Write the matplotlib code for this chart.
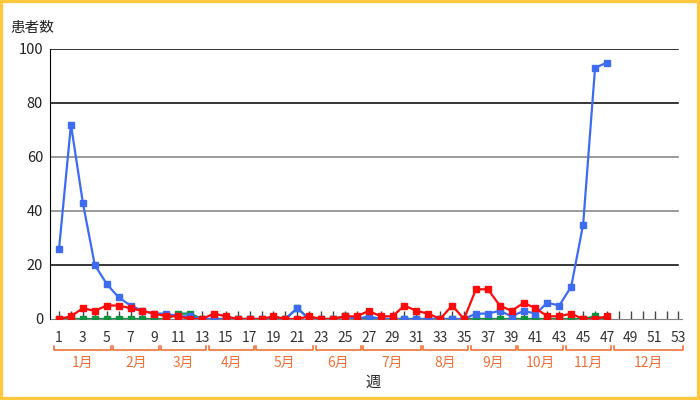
import numpy as np
import matplotlib
matplotlib.use('Agg')
from matplotlib import pyplot as plt
from matplotlib.patches import Rectangle

plt.rcParams['font.family'] = ['Noto Sans CJK JP', 'DejaVu Sans']

# data (weekly patient counts, weeks 1-47)
weeks = list(range(1, 48))
blue = [26, 72, 43, 20, 13, 8, 5, 3, 2, 2, 1, 1, 0, 0, 0, 0, 0, 0, 0, 0,
        4, 0, 0, 0, 1, 0, 1, 0, 0, 0, 0, 0, 0, 0, 0, 2, 2, 3, 1, 3,
        2, 6, 5, 12, 35, 93, 95]
green = [0, 0, 0, 0, 0, 0, 0, 0, 0, 0, 2, 2, 0, 0, 0, 0, 0, 0, 0, 0,
         4, 0, 0, 0, 1, 0, 0, 0, 0, 0, 0, 0, 0, 0, 0, 0, 0, 0, 0, 0,
         0, 0, 0, 0, 0, 1, 0]
red = [0, 1, 4, 3, 5, 5, 4, 3, 2, 1, 1, 0, 0, 2, 1, 0, 0, 0, 1, 0,
       0, 1, 0, 0, 1, 1, 3, 1, 1, 5, 3, 2, 0, 5, 0, 11, 11, 5, 3, 6,
       4, 1, 1, 2, 0, 0, 1]

all_weeks = list(range(1, 54))
month_names = ['1月', '2月', '3月', '4月', '5月', '6月', '7月', '8月', '9月', '10月', '11月', '12月']
month_start = [1, 6, 10, 14, 18, 23, 27, 32, 36, 40, 44, 48]
month_end = [5, 9, 13, 17, 22, 26, 31, 35, 39, 43, 47, 53]

fig = plt.figure(figsize=(7, 4), dpi=100)
ax = fig.add_axes([50 / 700, 1 - 319 / 400, 632 / 700, 270 / 400])

# grid lines
for v, c in zip([20, 40, 60, 80, 100], ['black', '#808080', '#808080', 'black', 'black']):
    ax.axhline(v, color=c, lw=1.1, zorder=1, xmax=0.993)

ax.plot(weeks, green, color='#0e9441', lw=1.6, marker='s', ms=5, zorder=3)
ax.plot(weeks, blue, color='#3d6cf2', lw=1.6, marker='s', ms=5, zorder=4)
ax.plot(weeks, red, color='#ff0a0a', lw=1.6, marker='s', ms=5, zorder=5)

ax.set_xlim(0.24, 53.3)
ax.set_ylim(0, 100)
ax.set_xticks(all_weeks)
ax.set_xticklabels([str(w) if w % 2 == 1 else '' for w in all_weeks])
ax.set_yticks([0, 20, 40, 60, 80, 100])
ax.tick_params(axis='x', direction='in', length=6, width=1, color='#444444',
               labelsize=10, labelcolor='#333333', pad=9)
ax.tick_params(axis='y', length=0, labelsize=10.5, labelcolor='#222222', pad=5)

for s in ['top', 'right']:
    ax.spines[s].set_visible(False)
ax.spines['left'].set_color('black')
ax.spines['bottom'].set_color('#808080')
ax.spines['left'].set_zorder(6)

# month brackets
trans = ax.get_xaxis_transform()
for name, a, b in zip(month_names, month_start, month_end):
    x0, x1 = a - 0.45, b + 0.35
    ax.plot([x0, x0, x1, x1], [-0.100, -0.114, -0.114, -0.100], color='#f06428',
            lw=1.1, transform=trans, clip_on=False)
    ax.text((x0 + x1) / 2, -0.163, name, transform=trans, ha='center', va='center',
            color='#f07038', fontsize=10)

fig.text(373 / 700, 1 - 382 / 400, '週', ha='center', va='center', fontsize=11, color='#222222')
fig.text(10 / 700, 1 - 28 / 400, '患者数', ha='left', va='center', fontsize=10.5, color='#222222')

fig.patches.append(Rectangle((0, 0), 1, 1, transform=fig.transFigure, fill=False,
                             ec='#ffc83c', lw=4.5))

fig.savefig('out.png', dpi=100)
